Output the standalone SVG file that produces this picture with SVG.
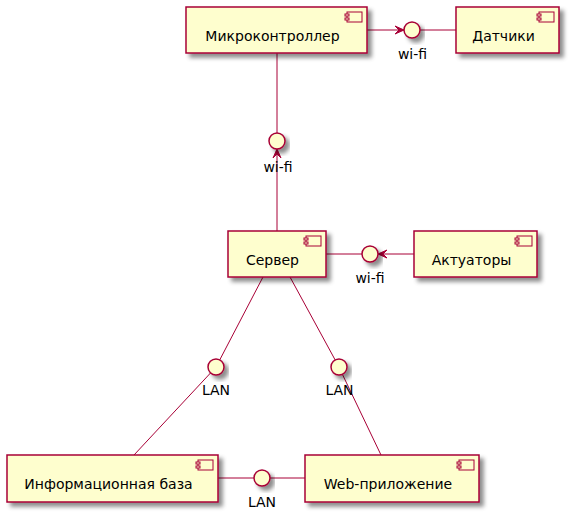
<svg xmlns="http://www.w3.org/2000/svg" width="572" height="515" viewBox="0 0 572 515">
<defs>
<filter id="sh" x="-20%" y="-20%" width="150%" height="160%">
<feGaussianBlur in="SourceAlpha" stdDeviation="2" result="b"/>
<feColorMatrix in="b" type="matrix" values="0 0 0 0 0  0 0 0 0 0  0 0 0 0 0  0 0 0 0.45 0" result="c"/>
<feOffset in="c" dx="4" dy="4" result="o"/>
<feMerge><feMergeNode in="o"/><feMergeNode in="SourceGraphic"/></feMerge>
</filter>
</defs>
<style>
.box{fill:#FEFECE;stroke:#A80036;stroke-width:1.5;filter:url(#sh)}
.ico{fill:#FEFECE;stroke:#A80036;stroke-width:1}
.ifc{fill:#FEFECE;stroke:#A80036;stroke-width:1.5;filter:url(#sh)}
.ln{stroke:#A80036;stroke-width:1;fill:none}
.ah{fill:#A80036;stroke:#A80036;stroke-width:1}
text{font-family:"DejaVu Sans","Liberation Sans",sans-serif;font-size:14px;fill:#000;text-anchor:middle}
</style>
<rect width="572" height="515" fill="#FFFFFF"/>
<g id="connectors">
<line class="ln" x1="367" y1="30" x2="404" y2="30"/>
<polygon class="ah" points="404,30 395,26 399,30 395,34"/>
<line class="ln" x1="420" y1="30" x2="456" y2="30"/>
<line class="ln" x1="277" y1="53" x2="277" y2="133"/>
<line class="ln" x1="277" y1="231" x2="277" y2="149"/>
<polygon class="ah" points="277,149 273,158 277,154 281,158"/>
<line class="ln" x1="326" y1="254" x2="362" y2="254"/>
<line class="ln" x1="414" y1="254" x2="378" y2="254"/>
<polygon class="ah" points="378,254 387,250 383,254 387,258"/>
<line class="ln" x1="263" y1="277" x2="219.7" y2="360"/>
<line class="ln" x1="290" y1="277" x2="335.2" y2="360"/>
<line class="ln" x1="210.6" y1="372.9" x2="134" y2="455"/>
<line class="ln" x1="342.4" y1="374.3" x2="381" y2="455"/>
<line class="ln" x1="218" y1="478" x2="254" y2="478"/>
<line class="ln" x1="270" y1="478" x2="305" y2="478"/>
</g>
<g id="mcu">
<rect class="box" x="186" y="7" width="181" height="46"/>
<rect class="ico" x="347" y="12" width="15" height="10"/>
<rect class="ico" x="345" y="14" width="4" height="2"/>
<rect class="ico" x="345" y="18" width="4" height="2"/>
<text x="272.5" y="41">Микроконтроллер</text>
</g>
<g id="sensors">
<rect class="box" x="456" y="7" width="103" height="46"/>
<rect class="ico" x="539" y="12" width="15" height="10"/>
<rect class="ico" x="537" y="14" width="4" height="2"/>
<rect class="ico" x="537" y="18" width="4" height="2"/>
<text x="503.5" y="41">Датчики</text>
</g>
<g id="wifi1">
<circle class="ifc" cx="412" cy="30" r="8"/>
<text x="412.5" y="59">wi-fi</text>
</g>
<g id="wifi2">
<circle class="ifc" cx="277" cy="141" r="8"/>
<text x="278" y="172">wi-fi</text>
</g>
<g id="server">
<rect class="box" x="228" y="231" width="98" height="46"/>
<rect class="ico" x="306" y="236" width="15" height="10"/>
<rect class="ico" x="304" y="238" width="4" height="2"/>
<rect class="ico" x="304" y="242" width="4" height="2"/>
<text x="272.5" y="265">Сервер</text>
</g>
<g id="wifi3">
<circle class="ifc" cx="370" cy="254" r="8"/>
<text x="370" y="283">wi-fi</text>
</g>
<g id="actuators">
<rect class="box" x="414" y="231" width="123" height="46"/>
<rect class="ico" x="517" y="236" width="15" height="10"/>
<rect class="ico" x="515" y="238" width="4" height="2"/>
<rect class="ico" x="515" y="242" width="4" height="2"/>
<text x="471.5" y="265">Актуаторы</text>
</g>
<g id="lan1">
<circle class="ifc" cx="216" cy="367" r="8"/>
<text x="216" y="395">LAN</text>
</g>
<g id="lan2">
<circle class="ifc" cx="339" cy="367" r="8"/>
<text x="339.5" y="395">LAN</text>
</g>
<g id="infobase">
<rect class="box" x="7" y="455" width="211" height="47"/>
<rect class="ico" x="198" y="460" width="15" height="10"/>
<rect class="ico" x="196" y="462" width="4" height="2"/>
<rect class="ico" x="196" y="466" width="4" height="2"/>
<text x="108.5" y="489">Информационная база</text>
</g>
<g id="lan3">
<circle class="ifc" cx="262" cy="478" r="8"/>
<text x="262" y="507">LAN</text>
</g>
<g id="webapp">
<rect class="box" x="305" y="455" width="174" height="47"/>
<rect class="ico" x="459" y="460" width="15" height="10"/>
<rect class="ico" x="457" y="462" width="4" height="2"/>
<rect class="ico" x="457" y="466" width="4" height="2"/>
<text x="388" y="489">Web-приложение</text>
</g>
</svg>
